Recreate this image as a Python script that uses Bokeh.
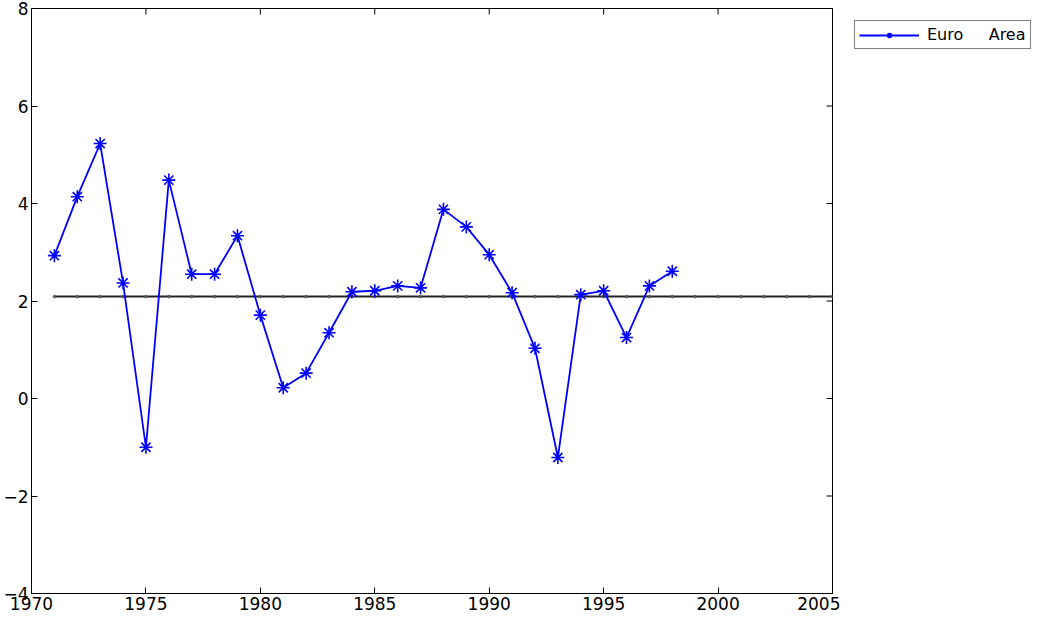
import math
from bokeh.plotting import figure
from bokeh.layouts import row
from bokeh.models import Range1d, FixedTicker, Legend, LegendItem
from bokeh.embed import file_html
from bokeh.resources import INLINE

years = list(range(1971, 1999))
euro_area = [2.93, 4.14, 5.23, 2.37, -1.00, 4.48, 2.55, 2.55, 3.34, 1.71,
             0.22, 0.52, 1.35, 2.19, 2.21, 2.31, 2.27, 3.88, 3.52, 2.95,
             2.17, 1.03, -1.21, 2.13, 2.21, 1.25, 2.31, 2.61]
mean_years = list(range(1971, 2006))
mean_value = 2.09
x_ticks = [1970, 1975, 1980, 1985, 1990, 1995, 2000, 2005]
y_ticks = [-4, -2, 0, 2, 4, 6, 8]
y_labels = {-4: "\u22124", -2: "\u22122", 0: "0", 2: "2", 4: "4", 6: "6", 8: "8"}
x_min, x_max = 1970, 2005
y_min, y_max = -4, 8
series_label = "Euro\u00a0\u00a0\u00a0\u00a0\u00a0Area"

FONT = "DejaVu Sans"
H = 612
TOP = 8

p = figure(width=840, height=H, output_backend="svg", toolbar_location=None,
           x_range=Range1d(x_min, x_max), y_range=Range1d(y_min, y_max),
           min_border_left=25, min_border_right=8, min_border_top=TOP, min_border_bottom=10)
p.xgrid.visible = False
p.ygrid.visible = False
p.outline_line_color = "black"
p.outline_line_width = 1
p.background_fill_color = "white"
p.border_fill_color = "white"

for ax in p.xaxis:
    ax.ticker = FixedTicker(ticks=x_ticks)
for ax in p.yaxis:
    ax.ticker = FixedTicker(ticks=y_ticks)
    ax.major_label_overrides = y_labels

for ax in list(p.xaxis) + list(p.yaxis):
    ax.major_tick_in = 6
    ax.major_tick_out = 0
    ax.minor_tick_line_color = None
    ax.axis_line_color = "black"
    ax.major_tick_line_color = "black"
    ax.major_label_text_font = FONT
    ax.major_label_text_font_size = "17px"
    ax.major_label_text_color = "black"
    ax.major_label_standoff = 3

# box ticks on top and right edges (half of each dash is clipped by the frame)
p.scatter(x_ticks, [y_max] * len(x_ticks), marker="dash", angle=math.pi / 2, size=12,
          line_color="black", line_width=1)
p.scatter([x_max] * len(y_ticks), y_ticks, marker="dash", size=12,
          line_color="black", line_width=1)

# mean line
mean_vals = [mean_value] * len(mean_years)
p.line(mean_years, mean_vals, line_color="#222222", line_width=2)
p.scatter(mean_years, mean_vals, marker="circle", size=2.5, fill_color="#555555",
          line_color="#555555")

# series
p.line(years, euro_area, line_color="blue", line_width=1.8)
p.scatter(years, euro_area, marker="asterisk", size=13, line_color="blue",
          line_width=1.6)

# legend panel (separate, axis-less figure to the right of the plot);
# the proxy renderers use the series data, which lies outside this panel's ranges
q = figure(width=192, height=H, output_backend="svg", toolbar_location=None,
           x_axis_location=None, y_axis_location=None,
           x_range=Range1d(0, 1), y_range=Range1d(0, 1),
           min_border_left=2, min_border_right=0, min_border_top=TOP, min_border_bottom=10)
q.xgrid.visible = False
q.ygrid.visible = False
q.outline_line_color = None
q.background_fill_color = "white"
q.border_fill_color = "white"
lg_line = q.line(years, euro_area, line_color="blue", line_width=1.8)
lg_mark = q.scatter(years, euro_area, marker="asterisk", size=11, line_color="blue",
                    line_width=1.6)

legend = Legend(items=[LegendItem(label=series_label, renderers=[lg_line, lg_mark])],
                location="top_left", orientation="vertical")
legend.glyph_width = 60
legend.glyph_height = 14
legend.label_standoff = 8
legend.padding = 4
legend.margin = 12
legend.spacing = 0
legend.border_line_color = "black"
legend.border_line_width = 1.5
legend.label_text_font = FONT
legend.label_text_font_size = "16px"
legend.label_text_color = "black"
legend.background_fill_alpha = 1
q.add_layout(legend, "center")

layout = row(p, q, spacing=0)
open("out.html", "w").write(file_html(layout, INLINE))
